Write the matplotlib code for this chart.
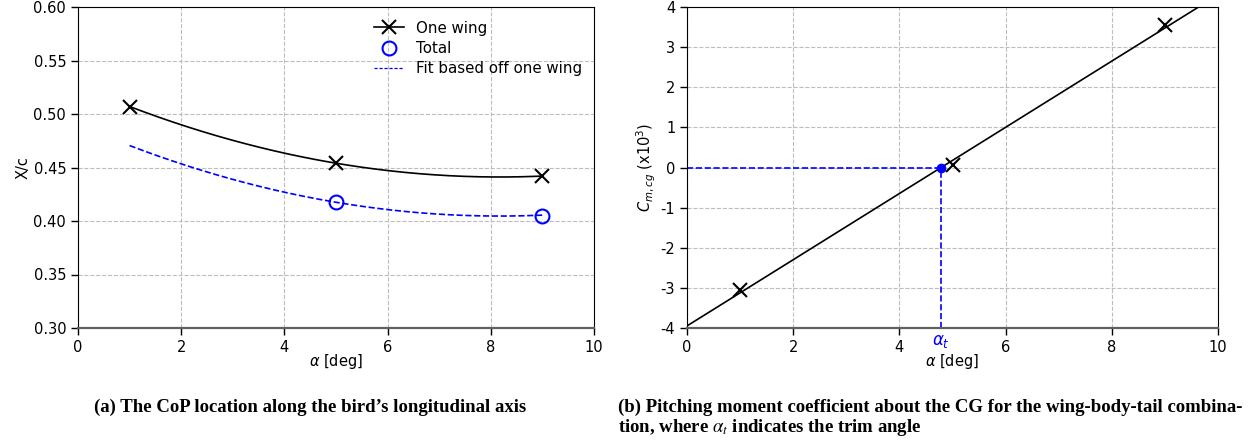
import numpy as np
import matplotlib
matplotlib.use('Agg')
import matplotlib.pyplot as plt

plt.rcParams['axes.unicode_minus'] = False
plt.rcParams['font.size'] = 10.5
plt.rcParams['mathtext.fontset'] = 'dejavusans'

# (a) centre of pressure data
alpha_pts = [1, 5, 9]
xc_one_wing = [0.507, 0.454, 0.442]
alpha_total = [5, 9]
xc_total = [0.418, 0.405]

# (b) pitching moment data (x10^3)
alpha_cm = [1, 5, 9]
cm_cg = [-3.06, 0.05, 3.54]

fig = plt.figure(figsize=(12.55, 4.42), dpi=100)
ax1 = fig.add_axes([78 / 1255, 114 / 442, 516 / 1255, 321 / 442])
ax2 = fig.add_axes([687 / 1255, 114 / 442, 531 / 1255, 321 / 442])

grid_kw = dict(color='#bdbdbd', linestyle='--', linewidth=0.8)

# ---- left plot
coef = np.polyfit(alpha_pts, xc_one_wing, 2)
a_fine = np.linspace(1, 9, 200)
ax1.plot(a_fine, np.polyval(coef, a_fine), color='k', lw=1.2)
ax1.plot(alpha_pts, xc_one_wing, 'kx', ms=10, mew=1.5)

# fit for the total, shifted from the one-wing curve
shift = np.mean(np.array(xc_total) - np.polyval(coef, alpha_total))
ax1.plot(a_fine, np.polyval(coef, a_fine) + shift, color='b', ls='--', lw=1.2)
ax1.plot(alpha_total, xc_total, 'o', mfc='none', mec='b', ms=10, mew=1.5)

h1, = ax1.plot([], [], 'k-x', ms=10, mew=1.5, lw=1.2, label='One wing')
h2, = ax1.plot([], [], 'o', mfc='none', mec='b', ms=10, mew=1.5, label='Total')
h3, = ax1.plot([], [], color='b', ls='--', lw=0.9, dashes=(2.5, 1.5), label='Fit based off one wing')
ax1.legend(handles=[h1, h2, h3], loc='upper right', frameon=False,
           bbox_to_anchor=(1.003, 1.0), handlelength=2.0, handletextpad=0.8,
           labelspacing=0.35, fontsize=10.8)

ax1.set_xlim(0, 10)
ax1.set_ylim(0.30, 0.60)
ax1.set_xticks(np.arange(0, 11, 2))
ax1.set_yticks(np.arange(0.30, 0.601, 0.05))
ax1.set_yticklabels(['%.2f' % v for v in np.arange(0.30, 0.601, 0.05)])
ax1.grid(True, **grid_kw)
ax1.set_xlabel(r'$\alpha$ [deg]', labelpad=-2)
ax1.set_ylabel('X/c', labelpad=2)

# ---- right plot
lin = np.polyfit(alpha_cm, cm_cg, 1)
a_line = np.linspace(0, 10, 50)
ax2.plot(a_line, np.polyval(lin, a_line), color='k', lw=1.2)
ax2.plot(alpha_cm, cm_cg, 'kx', ms=10, mew=1.5)

alpha_t = -lin[1] / lin[0]
ax2.plot([0, alpha_t], [0, 0], color='b', ls='--', lw=1.2)
ax2.plot([alpha_t, alpha_t], [-4, 0], color='b', ls='--', lw=1.2)
ax2.plot([alpha_t], [0], 'o', color='b', ms=6)
ax2.text(alpha_t, -4.1, r'$\alpha_t$', color='b', ha='center', va='top', fontsize=12)

ax2.set_xlim(0, 10)
ax2.set_ylim(-4, 4)
ax2.set_xticks(np.arange(0, 11, 2))
ax2.set_yticks(np.arange(-4, 5, 1))
ax2.grid(True, **grid_kw)
ax2.set_xlabel(r'$\alpha$ [deg]', labelpad=-2)
ax2.set_ylabel(r'$C_{m,cg}$ (x10$^3$)', labelpad=2)

for ax in (ax1, ax2):
    ax.tick_params(direction='out', length=5, width=1, labelsize=10.5)
    ax.spines['bottom'].set_color('#606060')
    ax.spines['bottom'].set_linewidth(1.6)

# captions
cap = dict(family='Liberation Serif', weight='bold', fontsize=13.5)
fig.text(310 / 1255, 1 - 407 / 442, '(a) The CoP location along the bird\u2019s longitudinal axis',
         ha='center', va='center', **cap)
fig.text(618 / 1255, 1 - 407 / 442,
         '(b) Pitching moment coefficient about the CG for the wing-body-tail combina-',
         ha='left', va='center', **cap)
fig.text(618 / 1255, 1 - 428 / 442,
         r'tion, where $\alpha_t$ indicates the trim angle',
         ha='left', va='center', math_fontfamily='stix', **cap)

fig.savefig('out.png', dpi=100)
